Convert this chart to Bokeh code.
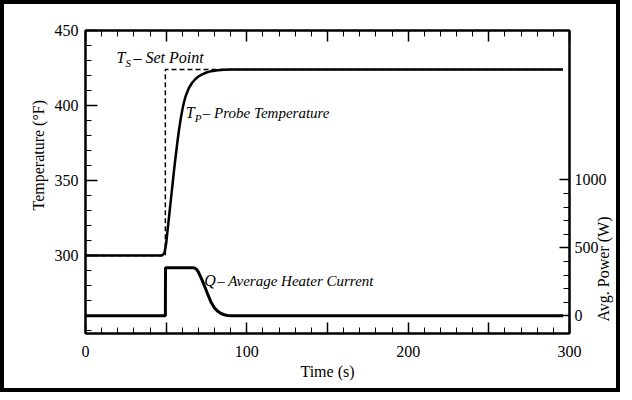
import math
from bokeh.plotting import figure
from bokeh.models import Range1d, LinearAxis, FixedTicker, Title
from bokeh.core.properties import value
from bokeh.embed import file_html
from bokeh.resources import INLINE

FONT = "Liberation Serif"

# ---- data ----
set_t = [0, 49.5, 49.5, 296]
set_T = [300, 300, 424, 424]

probe_t = [0, 47, 48, 49, 50, 51, 52, 53, 54, 55, 56, 57, 58, 59, 60, 61, 62, 64, 66, 68,
           70, 72, 75, 78, 82, 86, 90, 100, 296]
probe_T = [300, 300, 300.5, 302, 308, 318, 328, 338, 348, 358, 367, 376, 384, 391, 397, 402,
           406, 411.5, 415, 417.5, 419.3, 420.6, 422, 422.9, 423.5, 423.8, 424, 424, 424]

heat_t = [0, 49.5, 49.6, 67, 68, 69, 70, 72, 74, 76, 78, 80, 82, 84, 86, 88, 90, 95, 296]
heat_W = [0, 0, 353, 353, 350, 340, 322, 270, 212, 152, 96, 58, 33, 17, 8, 3, 1, 0, 0]

x_ticks = [0, 50, 100, 150, 200, 250, 300]
x_minor = list(range(0, 301, 10))
temp_ticks = [300, 350, 400, 450]
temp_minor = list(range(250, 451, 10))
power_ticks = [0, 500, 1000]
power_minor = [100, 200, 300, 400, 600, 700, 800, 900]

p = figure(width=620, height=392, x_range=Range1d(0, 300), y_range=Range1d(248, 450),
           output_backend="svg", toolbar_location=None,
           min_border_left=81, min_border_right=55, min_border_top=26, min_border_bottom=63)
p.extra_y_ranges = {"power": Range1d(-130, 2100)}
p.xgrid.visible = False
p.ygrid.visible = False
p.outline_line_color = "black"
p.outline_line_width = 2
p.background_fill_color = "white"
p.border_fill_color = "white"
p.styles = {"border": "4px solid black"}


def style_axis(ax, major_in, minor_in):
    ax.major_tick_in = major_in
    ax.major_tick_out = 0
    ax.minor_tick_in = minor_in
    ax.minor_tick_out = 0
    ax.axis_line_width = 2
    ax.axis_line_color = "black"
    ax.major_tick_line_width = 1.5
    ax.major_tick_line_color = "black"
    ax.minor_tick_line_width = 1
    ax.minor_tick_line_color = "black"
    ax.major_label_text_font = FONT
    ax.major_label_text_font_size = "16px"
    ax.major_label_text_color = "black"
    ax.axis_label_text_font = FONT
    ax.axis_label_text_font_size = "16px"
    ax.axis_label_text_font_style = "normal"
    ax.axis_label_text_color = "black"


xax = p.xaxis[0]
xax.ticker = FixedTicker(ticks=x_ticks, minor_ticks=x_minor)
xax.major_label_overrides = {50: "", 150: "", 250: ""}
style_axis(xax, 11, 6)
xax.major_label_standoff = 12
xax.axis_label = "Time (s)"
xax.axis_label_standoff = 3

top = LinearAxis(ticker=FixedTicker(ticks=x_ticks, minor_ticks=x_minor))
style_axis(top, 11, 6)
top.major_label_overrides = {t: "" for t in x_ticks}
p.add_layout(top, "above")

yax = p.yaxis[0]
yax.ticker = FixedTicker(ticks=temp_ticks, minor_ticks=temp_minor)
style_axis(yax, 12, 6)
yax.major_label_standoff = 7

ttl = Title(text="Temperature (\u00b0F)", align="left", offset=123, standoff=10,
            text_font=FONT, text_font_size="16px", text_font_style="normal", text_color="black")
p.add_layout(ttl, "left")

rax = LinearAxis(y_range_name="power", ticker=FixedTicker(ticks=power_ticks, minor_ticks=power_minor))
style_axis(rax, 10, 6)
rax.major_label_standoff = 5
rax.axis_label = "\u00a0\u00a0\u00a0Avg. Power (W)"
rax.axis_label_standoff = -6
rax.axis_label_orientation = math.pi / 2
if "axis_label_align" in rax.properties():
    rax.axis_label_align = "start"
p.add_layout(rax, "right")

# ---- curves ----
p.line(set_t, set_T, line_color="black", line_width=1.5, line_dash="5 3")
p.line(probe_t, probe_T, line_color="black", line_width=2.5)
p.line(heat_t, heat_W, y_range_name="power", line_color="black", line_width=3)

# ---- in-plot annotations ----
def ann(x, y, main, sub, rest, sub_dx, rest_dx, rest_size):
    common = dict(text_font=value(FONT), text_font_style="italic", text_color="black",
                  text_baseline="middle", text_align="left")
    p.text(x=[x], y=[y], text=[main], text_font_size="16px", **common)
    if sub:
        p.text(x=[x], y=[y], text=[sub], x_offset=sub_dx, y_offset=5, text_font_size="11px", **common)
    p.text(x=[x], y=[y], text=[rest], x_offset=rest_dx, text_font_size=rest_size, **common)

ann(19.2, 432, "T", "S", "\u2013 Set Point", 9, 17, "16px")
ann(62.2, 395.3, "T", "P", "\u2013 Probe Temperature", 9, 17, "15px")
ann(73.6, 283.1, "Q", None, "\u2013 Average Heater Current", 0, 13, "15px")

open("out.html", "w").write(file_html(p, INLINE))
